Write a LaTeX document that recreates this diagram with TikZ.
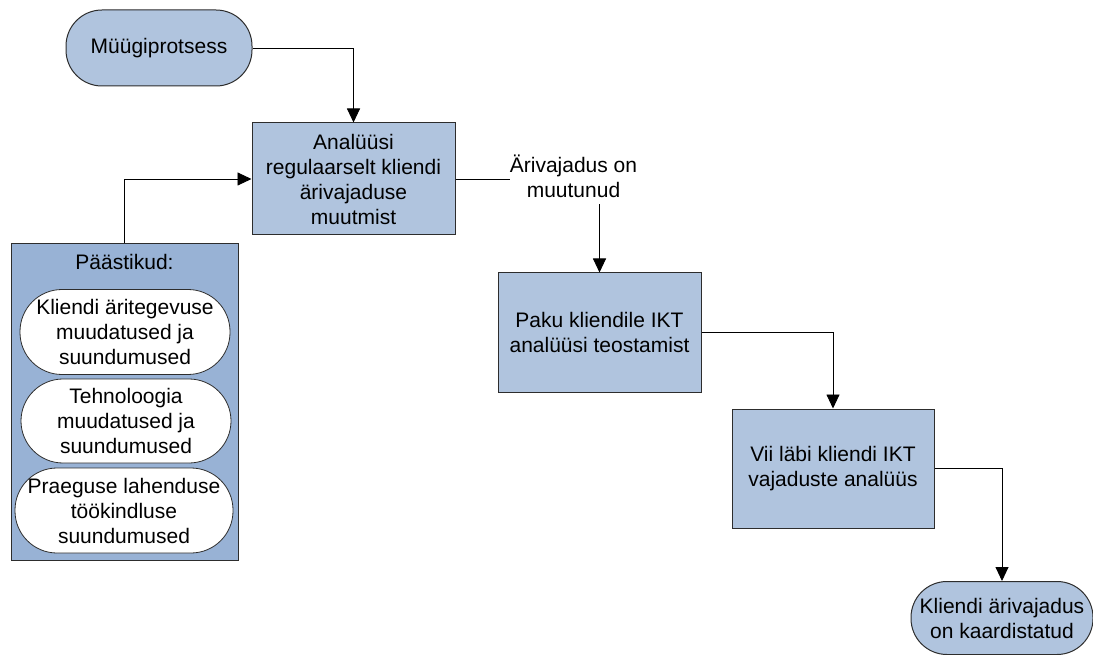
\documentclass[tikz,border=0pt]{standalone}
\usepackage{fontspec}
\setmainfont{Liberation Sans}
\usetikzlibrary{arrows.meta}
\definecolor{boxfill}{RGB}{176,196,222}
\definecolor{groupfill}{RGB}{152,178,213}
\definecolor{edgecol}{RGB}{45,45,45}
\begin{document}
\begin{tikzpicture}[x=1pt,y=-1pt,
  every node/.style={font=\fontsize{21}{25}\selectfont, align=center, inner sep=0pt},
  stepbox/.style={draw=edgecol, line width=1pt, fill=boxfill,
    minimum width=203pt, minimum height=#1},
  terminal/.style={draw=edgecol, line width=1pt, fill=boxfill,
    rounded corners=36pt, minimum width=#1},
  trigger/.style={draw=edgecol, line width=0.8pt, fill=white,
    rounded corners=42pt, minimum width=#1, minimum height=85pt},
  flow/.style={draw=black, line width=0.9pt, -{Triangle[length=14pt,width=13pt]}}]
\useasboundingbox (0,0) rectangle (1093,655);

% start and end terminals
\node[terminal=186pt, minimum height=76pt] (start) at (159,48) {Müügiprotsess};
\node[terminal=182pt, minimum height=73pt] (finish) at (1002,618)
  {Kliendi ärivajadus\\on kaardistatud};

% process steps
\node[stepbox=112pt] (watch) at (353.5,179)
  {Analüüsi\\regulaarselt kliendi\\ärivajaduse\\muutmist};
\node[stepbox=119pt] (offer) at (599.5,332.5)
  {Paku kliendile IKT\\analüüsi teostamist};
\node[stepbox=119pt, minimum width=202pt] (study) at (833,468.5)
  {Vii läbi kliendi IKT\\vajaduste analüüs};

% group of triggers
\node[draw=edgecol, line width=1pt, fill=groupfill,
  minimum width=227pt, minimum height=316pt] (group) at (124.5,402) {};
\node (grouptitle) at (124.5,262) {Päästikud:};
\node[trigger=210pt] (trigA) at (125,332)
  {Kliendi äritegevuse\\muudatused ja\\suundumused};
\node[trigger=210pt, minimum height=84pt] (trigB) at (126,421)
  {Tehnoloogia\\muudatused ja\\suundumused};
\node[trigger=218pt] (trigC) at (124,510.5)
  {Praeguse lahenduse\\töökindluse\\suundumused};

% connectors
\draw[flow] (start.east) -| (watch.north);
\draw[flow] (group.north) |- (watch.west);
\draw[flow] (watch.east) -| (offer.north);
\draw[flow] (offer.east) -| (study.north);
\draw[flow] (study.east) -| (finish.north);

% condition label sitting on the bend of the connector
\node[fill=white, inner xsep=0pt, inner ysep=7pt] (changed) at (573.5,176)
  {Ärivajadus on\\muutunud};
\end{tikzpicture}
\end{document}
